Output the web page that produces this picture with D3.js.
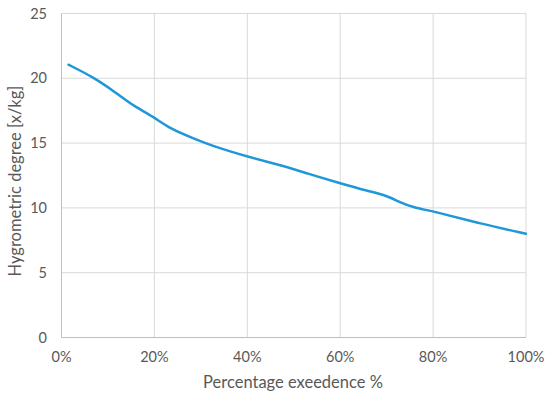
<!DOCTYPE html>
<html>
<head>
<meta charset="utf-8">
<script src="https://cdn.jsdelivr.net/npm/d3@7"></script>
<style>
  body { margin: 0; background: #fff; }
  text { font-family: Lato, "Open Sans", sans-serif; fill: #595959; }
</style>
</head>
<body>
<svg class="chart" width="550" height="397"></svg>
<script>
// percentage of exceedence (%) and hygrometric degree
var exceedence = [1.5, 6.8, 11.9, 15.5, 19.8, 23.4, 28.4, 32.7, 40.6, 46.6, 53, 60, 66, 70, 73, 76, 80, 90, 100];
var hygro = [21.05, 20.1, 18.85, 17.86, 17.04, 16.1, 15.37, 14.75, 13.9, 13.35, 12.65, 11.9, 11.3, 10.95, 10.4, 10.0, 9.75, 8.8, 8.0];

var xTicks = [0, 20, 40, 60, 80, 100];
var yTicks = [0, 5, 10, 15, 20, 25];

var svg = d3.select(".chart");
var plotL = 61.5, plotR = 526, plotT = 13.5, plotB = 337.5;

var x = d3.scaleLinear().domain([0, 100]).range([plotL, plotR]);
var y = d3.scaleLinear().domain([0, 25]).range([plotB, plotT]);

// gridlines
svg.append("g").selectAll("line").data(yTicks.slice(1))
  .enter().append("line")
  .attr("x1", plotL).attr("x2", plotR)
  .attr("y1", d => y(d)).attr("y2", d => y(d))
  .attr("stroke", "#d9d9d9").attr("stroke-width", 1);

svg.append("g").selectAll("line").data(xTicks.slice(1))
  .enter().append("line")
  .attr("x1", d => x(d)).attr("x2", d => x(d))
  .attr("y1", plotT).attr("y2", plotB)
  .attr("stroke", "#d9d9d9").attr("stroke-width", 1);

// axis lines
svg.append("line")
  .attr("x1", plotL).attr("x2", plotL).attr("y1", plotT).attr("y2", plotB)
  .attr("stroke", "#bfbfbf");
svg.append("line")
  .attr("x1", plotL).attr("x2", plotR).attr("y1", plotB).attr("y2", plotB)
  .attr("stroke", "#bfbfbf");

// tick labels
svg.append("g").selectAll("text").data(yTicks)
  .enter().append("text")
  .attr("x", 47).attr("y", d => y(d) + 5)
  .attr("text-anchor", "end")
  .attr("font-size", 14.5)
  .text(d => d);

svg.append("g").selectAll("text").data(xTicks)
  .enter().append("text")
  .attr("x", d => x(d)).attr("y", 362)
  .attr("text-anchor", "middle")
  .attr("font-size", 14.5)
  .text(d => d + "%");

// axis titles
svg.append("text")
  .attr("transform", "translate(21,181) rotate(-90)")
  .attr("text-anchor", "middle")
  .attr("font-size", 16.5)
  .text("Hygrometric degree [x/kg]");

svg.append("text")
  .attr("x", 293).attr("y", 388)
  .attr("text-anchor", "middle")
  .attr("font-size", 16.5)
  .text("Percentage exeedence %");

// the curve
var line = d3.line()
  .x((d, i) => x(exceedence[i]))
  .y(d => y(d))
  .curve(d3.curveBasis);

svg.append("path")
  .attr("d", line(hygro))
  .attr("fill", "none")
  .attr("stroke", "#1f97d8")
  .attr("stroke-width", 2.5)
  .attr("stroke-linecap", "round");
</script>
</body>
</html>
